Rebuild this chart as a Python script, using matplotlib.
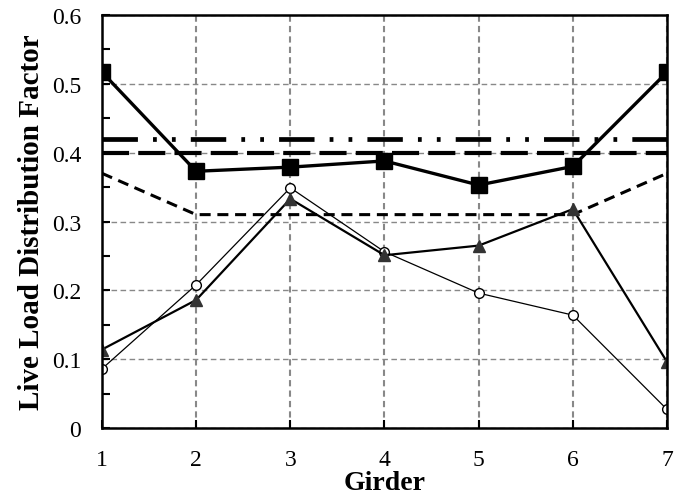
import numpy as np
import matplotlib.pyplot as plt
from matplotlib.ticker import MultipleLocator

plt.rcParams['font.family'] = ['Liberation Serif', 'DejaVu Serif']

girder = [1, 2, 3, 4, 5, 6, 7]
squares = [0.517, 0.373, 0.379, 0.388, 0.353, 0.380, 0.517]
circles = [0.086, 0.208, 0.349, 0.256, 0.196, 0.164, 0.027]
triangles = [0.114, 0.186, 0.333, 0.251, 0.265, 0.318, 0.096]
code_a = [0.42] * 7
code_b = [0.40] * 7
code_c = [0.37, 0.31, 0.31, 0.31, 0.31, 0.31, 0.37]

fig = plt.figure(figsize=(6.83, 5.02), dpi=100)
ax = fig.add_axes([0.1493, 0.1454, 0.8273, 0.8227])

# code lines (dash lengths are in units of linewidth)
ax.plot(girder, code_a, color='black', lw=3.4, dashes=(7.5, 3.2, 0.8, 3.2, 0.8, 3.2))
ax.plot(girder, code_b, color='black', lw=3.0, dashes=(6.5, 2.2))
ax.plot(girder, code_c, color='black', lw=2.2, dashes=(3.6, 2.2))

ax.plot(girder, circles, color='black', lw=0.9, marker='o', ms=7,
        mfc='white', mec='black', mew=1.0)
ax.plot(girder, triangles, color='black', lw=1.6, marker='^', ms=9,
        mfc='#333333', mec='#333333')
ax.plot(girder, squares, color='black', lw=2.4, marker='s', ms=11,
        mfc='black', mec='black')

ax.set_xlim(1, 7)
ax.set_ylim(0, 0.6)
ax.xaxis.set_major_locator(MultipleLocator(1))
ax.yaxis.set_major_locator(MultipleLocator(0.1))
ax.yaxis.set_minor_locator(MultipleLocator(0.05))
ax.yaxis.set_major_formatter(plt.FuncFormatter(
    lambda v, p: '0' if abs(v) < 1e-9 else f'{v:.1f}'))
ax.xaxis.grid(True, color='#888888', ls=(0, (3, 2)), lw=1.5)
ax.yaxis.grid(True, which='major', color='#888888', ls=(0, (4, 2.5)), lw=1.0)
ax.set_axisbelow(True)

for s in ax.spines.values():
    s.set_linewidth(1.8)
ax.tick_params(which='both', direction='in', width=1.5, labelsize=17)
ax.tick_params(which='major', length=6)
ax.tick_params(which='minor', length=6)
ax.tick_params(axis='y', pad=15)
ax.tick_params(axis='x', pad=15)

ax.set_xlabel('Girder', fontsize=20, fontweight='bold', labelpad=0)
ax.set_ylabel('Live Load Distribution Factor', fontsize=21, fontweight='bold',
              labelpad=5)

fig.savefig('out.png', dpi=100)
